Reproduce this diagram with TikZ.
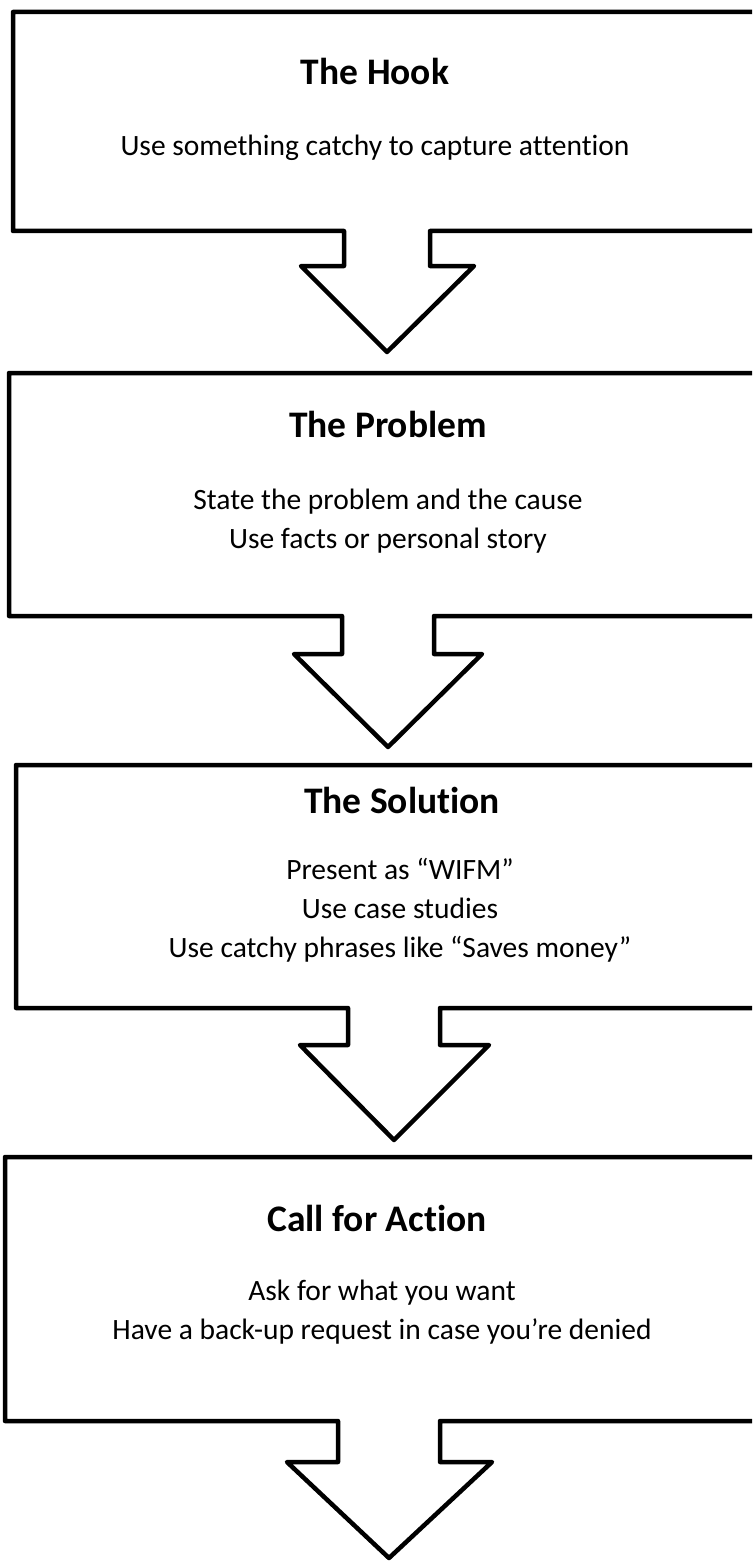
\documentclass[tikz,border=0pt]{standalone}
\usepackage{fontspec}
\setmainfont{Carlito}[Ligatures=NoCommon]
\usetikzlibrary{positioning}
\tikzset{
  callout/.style={draw=black,line width=4.5pt,line join=round,fill=white},
  ttl/.style={font=\fontsize{37.5}{44}\selectfont\bfseries,inner sep=0pt},
  txt/.style={font=\fontsize{29.5}{39}\selectfont,align=center,inner sep=0pt},
}
\begin{document}
\begin{tikzpicture}[x=1pt,y=-1pt]
\useasboundingbox (0,0) rectangle (752,1562);
\fill[white] (0,0) rectangle (752,1562);
\clip (0,0) rectangle (752,1562);
% left/top/bottom, shaft, head, tip
\foreach \l/\t/\b/\sl/\sr/\sb/\hl/\hr/\tx/\ty in {
  13/12/231/344/430/266/301/474/387/352,
  9/373/616/342/434/654/294/482/388/747,
  16/765/1008/348/440/1045/300/489/394/1140,
  5/1157/1421/338/440/1462/287/492/389/1558}
  \draw[callout] (\l,\t) -- (780,\t) -- (780,\b) -- (\sr,\b) -- (\sr,\sb) -- (\hr,\sb)
    -- (\tx,\ty) -- (\hl,\sb) -- (\sl,\sb) -- (\sl,\b) -- (\l,\b) -- cycle;

\node[ttl] (hook) at (375,71) {The Hook};
\node[txt] (hooktxt) at (375,148) {Use something catchy to capture attention};

\node[ttl] (problem) at (388,424) {The Problem};
\node[txt] (problemtxt) at (388,521) {State the problem and the cause\\Use facts or personal story};

\node[ttl] (solution) at (402,800) {The Solution};
\node[txt] (solutiontxt) at (400,910) {Present as “WIFM”\\Use case studies\\Use catchy phrases like “Saves money”};

\node[ttl] (action) at (377,1218) {Call for Action};
\node[txt] (actiontxt) at (382,1312) {Ask for what you want\\Have a back-up request in case you’re denied};
\end{tikzpicture}
\end{document}
